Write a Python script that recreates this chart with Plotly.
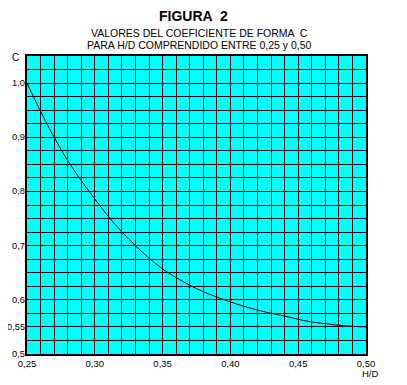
import plotly.graph_objects as go

# Data
hd = [0.25, 0.26, 0.27, 0.28, 0.29, 0.30, 0.31, 0.32, 0.33, 0.34, 0.35, 0.36, 0.37,
      0.38, 0.39, 0.40, 0.41, 0.42, 0.43, 0.44, 0.45, 0.46, 0.47, 0.48, 0.49, 0.50]
c_vals = [1.000, 0.948, 0.900, 0.857, 0.820, 0.786, 0.754, 0.725, 0.700, 0.677, 0.657,
          0.641, 0.627, 0.615, 0.605, 0.596, 0.588, 0.581, 0.575, 0.570, 0.564, 0.559,
          0.556, 0.553, 0.551, 0.550]

x_tickvals = [0.25, 0.30, 0.35, 0.40, 0.45, 0.50]
x_ticktext = ["0,25", "0,30", "0,35", "0,40", "0,45", "0,50"]
y_tickvals = [0.5, 0.55, 0.6, 0.7, 0.8, 0.9, 1.0]
y_ticktext = ["0,5", "0,55", "0,6", "0,7", "0,8", "0,9", "1,0"]

FONT = "Liberation Sans, Arial, sans-serif"
OFF = 8  # page body margin
W, H = 407 - OFF, 385 - OFF
ML, MT = 27 - OFF, 56 - OFF
MR = W - (366 - OFF)
MB = H - (354 - OFF)
plot_w = W - ML - MR
plot_h = H - MT - MB

fig = go.Figure()
fig.add_trace(go.Scatter(x=hd, y=c_vals, mode="lines",
                         line=dict(color="black", width=1, shape="spline"),
                         hoverinfo="skip", showlegend=False))

fig.update_layout(
    width=W, height=H,
    margin=dict(l=ML, r=MR, t=MT, b=MB, autoexpand=False),
    paper_bgcolor="white",
    plot_bgcolor="#00FFFF",
    font=dict(family=FONT, size=10, color="black"),
    showlegend=False,
)

fig.update_xaxes(
    range=[0.25, 0.50], tickvals=x_tickvals, ticktext=x_ticktext,
    showgrid=True, gridcolor="black", gridwidth=1.3,
    minor=dict(tick0=0.25, dtick=0.01, showgrid=True, gridcolor="black", gridwidth=1.3),
    showline=True, linecolor="black", linewidth=1.5, mirror=True,
    ticks="", ticklen=0, zeroline=False, automargin=False,
    tickfont=dict(family=FONT, size=9.5, color="black"),
)
fig.update_yaxes(
    range=[0.5, 1.05], tickvals=y_tickvals, showticklabels=False,
    showgrid=True, gridcolor="black", gridwidth=1.3,
    minor=dict(tick0=0.5, dtick=0.025, showgrid=True, gridcolor="black", gridwidth=1.3),
    showline=True, linecolor="black", linewidth=1.5, mirror=True,
    ticks="", ticklen=0, zeroline=False, automargin=False,
)

# y tick labels placed against the axis via the y scale
for v, t in zip(y_tickvals, y_ticktext):
    fig.add_annotation(text=t, x=(26 - 27) / plot_w, y=v, xref="paper", yref="y",
                       xanchor="right", yanchor="middle", showarrow=False,
                       borderpad=0, font=dict(family=FONT, color="black", size=9.3))

# (text, screen x, screen y from top, size)
labels = [
    ("<b>FIGURA  2</b>", 193, 16, 14),
    ("VALORES DEL COEFICIENTE DE FORMA  C", 199, 33, 10.5),
    ("PARA H/D COMPRENDIDO ENTRE 0,25 y 0,50", 199, 45, 10.5),
    ("C", 15, 57, 10),
    ("H/D", 370, 374, 9.5),
]
for text, sx, sy, size in labels:
    px, py = sx - OFF, sy - OFF
    fig.add_annotation(text=text, x=(px - ML) / plot_w, y=(H - py - MB) / plot_h,
                       xref="paper", yref="paper", showarrow=False,
                       xanchor="center", yanchor="middle",
                       font=dict(family=FONT, color="black", size=size))

fig.write_html("out.html")
